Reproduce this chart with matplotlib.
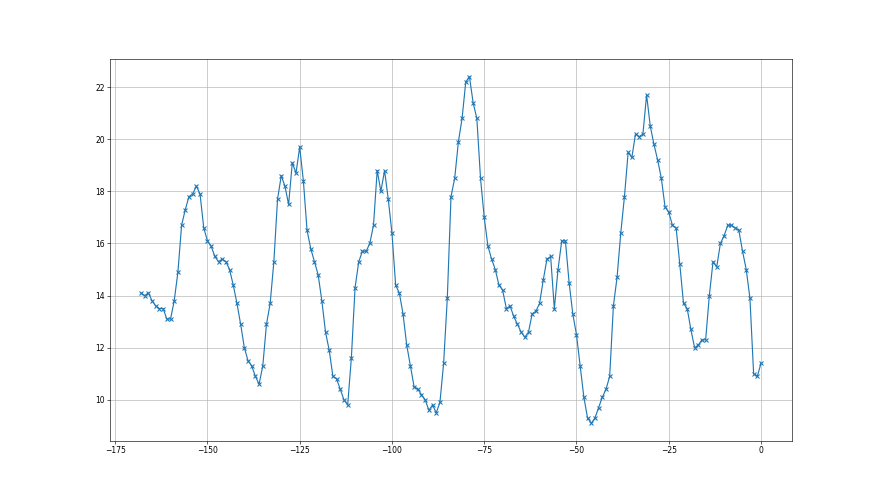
import numpy as np
import matplotlib; matplotlib.use('Agg')
import matplotlib.pyplot as plt

# hourly offsets, last 7 days
hours = np.arange(-168, 1)
values = [
    14.1, 14.0, 14.1, 13.8, 13.6, 13.5, 13.5, 13.1, 13.1, 13.8,
    14.9, 16.7, 17.3, 17.8, 17.9, 18.2, 17.9, 16.6, 16.1, 15.9,
    15.5, 15.3, 15.4, 15.3, 15.0, 14.4, 13.7, 12.9, 12.0, 11.5,
    11.3, 10.9, 10.6, 11.3, 12.9, 13.7, 15.3, 17.7, 18.6, 18.2,
    17.5, 19.1, 18.7, 19.7, 18.4, 16.5, 15.8, 15.3, 14.8, 13.8,
    12.6, 11.9, 10.9, 10.8, 10.4, 10.0, 9.8, 11.6, 14.3, 15.3,
    15.7, 15.7, 16.0, 16.7, 18.8, 18.0, 18.8, 17.7, 16.4, 14.4,
    14.1, 13.3, 12.1, 11.3, 10.5, 10.4, 10.2, 10.0, 9.6, 9.8,
    9.5, 9.9, 11.4, 13.9, 17.8, 18.5, 19.9, 20.8, 22.2, 22.4,
    21.4, 20.8, 18.5, 17.0, 15.9, 15.4, 15.0, 14.4, 14.2, 13.5,
    13.6, 13.2, 12.9, 12.6, 12.4, 12.6, 13.3, 13.4, 13.7, 14.6,
    15.4, 15.5, 13.5, 15.0, 16.1, 16.1, 14.5, 13.3, 12.5, 11.3,
    10.1, 9.3, 9.1, 9.3, 9.7, 10.1, 10.4, 10.9, 13.6, 14.7,
    16.4, 17.8, 19.5, 19.3, 20.2, 20.1, 20.2, 21.7, 20.5, 19.8,
    19.2, 18.5, 17.4, 17.2, 16.7, 16.6, 15.2, 13.7, 13.5, 12.7,
    12.0, 12.1, 12.3, 12.3, 14.0, 15.3, 15.1, 16.0, 16.3, 16.7,
    16.7, 16.6, 16.5, 15.7, 15.0, 13.9, 11.0, 10.9, 11.4,
]

fig, ax = plt.subplots(figsize=(16, 9), dpi=55)
ax.plot(hours, values, marker='x', markersize=6.5, markeredgewidth=1.4)
ax.grid(True)
plt.savefig('out.png', dpi=55)
plt.close()
